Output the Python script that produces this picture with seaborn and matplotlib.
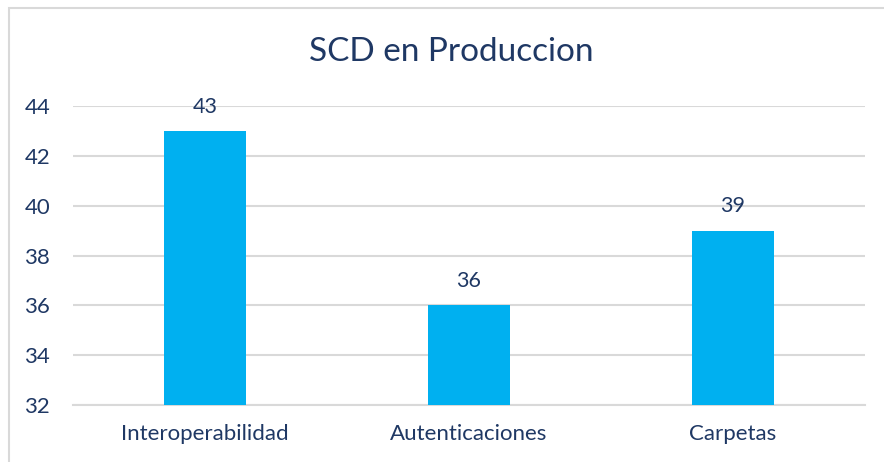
import matplotlib
matplotlib.use("Agg")
import matplotlib.pyplot as plt
import seaborn as sns
import pandas as pd
from matplotlib.patches import Rectangle

categories = ["Interoperabilidad", "Autenticaciones", "Carpetas"]
values = [43, 36, 39]
yticks = [32, 34, 36, 38, 40, 42, 44]
title = "SCD en Produccion"

sns.set_theme(style="white")
plt.rcParams['font.family'] = ['Lato', 'DejaVu Sans']

text_color = "#1F3864"
bar_color = "#00B0F0"
grid_color = "#D9D9D9"

df = pd.DataFrame({"cat": categories, "val": values})

fig = plt.figure(figsize=(8.84, 4.62), dpi=100)
ax = fig.add_axes([73/884, 1-405/462, 792/884, (405-106)/462])

sns.barplot(data=df, x="cat", y="val", color=bar_color, width=0.31,
            saturation=1, ax=ax, zorder=3)
ax.set_ylim(32, 44)
for p, v in zip(ax.patches, values):
    p.set_y(32)
    p.set_height(v - 32)
    p.set_edgecolor("none")
    ax.annotate(str(v), (p.get_x() + p.get_width()/2, v), xytext=(0, 17.5),
                textcoords="offset points", ha="center", va="center",
                fontsize=15.5, color=text_color)

ax.set_yticks(yticks)
ax.set_yticklabels([str(t) for t in yticks])
ax.yaxis.grid(True, color=grid_color, linewidth=1.5, zorder=0)
ax.set_axisbelow(True)
for s in ax.spines.values():
    s.set_visible(False)
ax.spines["bottom"].set_visible(True)
ax.spines["bottom"].set_color(grid_color)
ax.spines["bottom"].set_linewidth(1.5)
ax.tick_params(axis="y", length=0, pad=16.5, labelsize=16, labelcolor=text_color)
ax.tick_params(axis="x", length=0, pad=14, labelsize=16, labelcolor=text_color)
ax.set_xlabel("")
ax.set_ylabel("")

fig.text(451/884, 1-52/462, title, ha="center", va="center",
         fontsize=24, color=text_color)

fig.add_artist(Rectangle((9/884, -0.1), 1.2, 1 - 8/462 + 0.1,
                         transform=fig.transFigure, fill=False,
                         edgecolor="#D9D9D9", linewidth=1.5))

fig.savefig("out.png", dpi=100)
